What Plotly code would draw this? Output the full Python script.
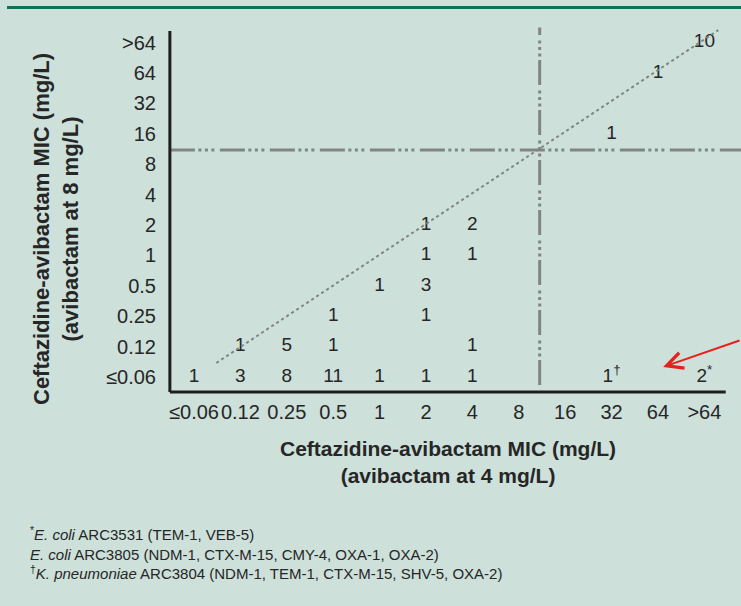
import plotly.graph_objects as go

# ---- data ----
x_labels = ["≤0.06", "0.12", "0.25", "0.5", "1", "2", "4", "8", "16", "32", "64", ">64"]
y_labels = ["≤0.06", "0.12", "0.25", "0.5", "1", "2", "4", "8", "16", "32", "64", ">64"]

# MIC at avibactam 4 mg/L (x) vs MIC at avibactam 8 mg/L (y), count of isolates
cell_x = ["≤0.06", "0.12", "0.25", "0.5", "1", "2", "4", "32", ">64",
          "0.12", "0.25", "0.5", "4",
          "0.5", "2",
          "1", "2",
          "2", "4",
          "2", "4",
          "32",
          "64",
          ">64"]
cell_y = ["≤0.06"] * 9 + ["0.12"] * 4 + ["0.25"] * 2 + ["0.5"] * 2 + ["1"] * 2 + ["2"] * 2 + ["16", "64", ">64"]
cell_text = ["1", "3", "8", "11", "1", "1", "1", "1<sup>†</sup>", "2<sup>*</sup>",
             "1", "5", "1", "1",
             "1", "1",
             "1", "3",
             "1", "1",
             "1", "2",
             "1",
             "1",
             "10"]

footnotes = [
    "<sup>*</sup><i>E. coli</i> ARC3531 (TEM-1, VEB-5)",
    "<i>E. coli</i> ARC3805 (NDM-1, CTX-M-15, CMY-4, OXA-1, OXA-2)",
    "<sup>†</sup><i>K. pneumoniae</i> ARC3804 (NDM-1, TEM-1, CTX-M-15, SHV-5, OXA-2)",
]

x_title = "Ceftazidine-avibactam MIC (mg/L)<br>(avibactam at 4 mg/L)"
y_title = "Ceftazidine-avibactam MIC (mg/L)<br>(avibactam at 8 mg/L)"

# ---- style ----
BG = "#cde0da"
TXT = "#262626"
GRAY = "#808583"
FONT = "Liberation Sans, Arial, sans-serif"

W, H = 741, 606
L, R, T, B = 165, 0, 20, 210

xi = [x_labels.index(v) for v in cell_x]
yi = [y_labels.index(v) for v in cell_y]

fig = go.Figure()
fig.add_trace(go.Scatter(
    x=xi, y=yi, mode="text", text=cell_text,
    textfont=dict(family=FONT, size=19, color=TXT),
    textposition="middle center", hoverinfo="skip", showlegend=False,
))

x_lo, x_hi = -0.625, 11.789
y_lo, y_hi = -0.625, 11.743
ax_x, ax_y = -0.52, -0.49   # axis line positions
cut = 7.45                  # breakpoint between 8 and 16

dash_pat = "25px,3.5px,3px,3.5px,3px,3.5px,3px,5.5px"
shapes = [
    dict(type="line", x0=ax_x, x1=x_hi, y0=7.47, y1=7.47,
         line=dict(color=GRAY, width=3, dash=dash_pat)),
    dict(type="line", x0=cut, x1=cut, y0=-0.26, y1=11.5,
         line=dict(color=GRAY, width=3, dash=dash_pat)),
    dict(type="line", x0=0.48, y0=0.46, x1=11.3, y1=11.41,
         line=dict(color=GRAY, width=2, dash="dot")),
    dict(type="line", x0=ax_x, x1=ax_x, y0=ax_y, y1=11.38,
         line=dict(color="#1e1e1e", width=3)),
    dict(type="line", x0=ax_x, x1=11.46, y0=ax_y, y1=ax_y,
         line=dict(color="#1e1e1e", width=3)),
    dict(type="line", xref="paper", yref="paper",
         x0=(7 - L) / (W - L - R), x1=1.0,
         y0=(H - B - 7.5) / (H - T - B), y1=(H - B - 7.5) / (H - T - B),
         line=dict(color="#0d7356", width=3)),
]

pw, ph = W - L - R, H - T - B
def px(x):
    return (x - L) / pw
def py(y):
    return (H - B - y) / ph

annotations = [
    dict(text="<b>" + x_title + "</b>", xref="paper", yref="paper",
         x=px(448), y=py(462), xanchor="center", yanchor="middle", showarrow=False,
         font=dict(family=FONT, size=21, color=TXT), align="center"),
    dict(text="<b>" + y_title + "</b>", xref="paper", yref="paper",
         x=px(56), y=py(229), xanchor="center", yanchor="middle", showarrow=False,
         textangle=-90, font=dict(family=FONT, size=22, color=TXT), align="center"),
    dict(text="<br>".join(footnotes), xref="paper", yref="paper",
         x=px(28), y=py(553), xanchor="left", yanchor="middle", showarrow=False,
         font=dict(family=FONT, size=15, color=TXT), align="left"),
    dict(text="", x=10.11, y=0.33, xref="x", yref="y",
         ax=82, ay=-27, showarrow=True, arrowhead=5, arrowsize=1.6,
         arrowwidth=2, arrowcolor="#e8201c", standoff=0),
]

fig.update_layout(
    width=W, height=H,
    margin=dict(l=L, r=R, t=T, b=B),
    paper_bgcolor=BG, plot_bgcolor=BG,
    shapes=shapes, annotations=annotations,
    xaxis=dict(range=[x_lo, x_hi], tickvals=list(range(12)), ticktext=x_labels,
               showgrid=False, zeroline=False, showline=False, ticks="",
               tickangle=0,
               tickfont=dict(family=FONT, size=20, color=TXT),
               ticklabelstandoff=2, fixedrange=True),
    yaxis=dict(range=[y_lo, y_hi], tickvals=list(range(12)), ticktext=y_labels,
               showgrid=False, zeroline=False, showline=False, ticks="",
               tickfont=dict(family=FONT, size=20, color=TXT),
               ticklabelstandoff=8, fixedrange=True),
    showlegend=False,
)

fig.write_html("out.html", config={"displayModeBar": False},
               post_script="document.body.style.margin='0';document.body.style.overflow='hidden';")
